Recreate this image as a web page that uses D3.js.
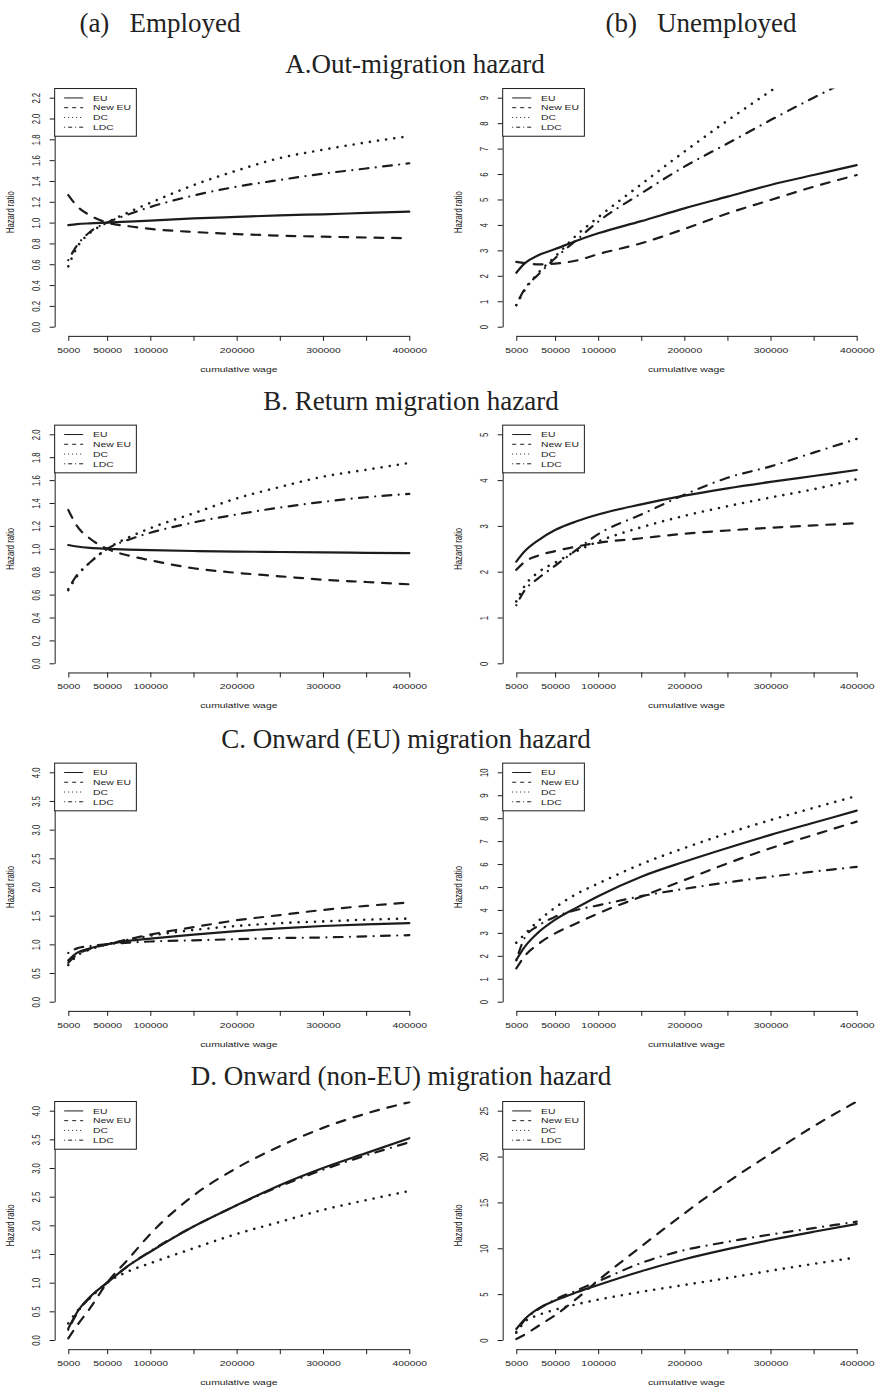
<!DOCTYPE html>
<html>
<head>
<meta charset="utf-8">
<script src="https://cdn.jsdelivr.net/npm/d3@7"></script>
<style>
  body { margin: 0; background: #fff; }
  svg { display: block; }
  .sans { font-family: "Liberation Sans", Arial, Helvetica, sans-serif; fill: #222; }
  .serif { font-family: "Liberation Serif", "Times New Roman", serif; fill: #222; white-space: pre; }
</style>
</head>
<body>
<script>
// cumulative wage grid (x) and the four origin groups
var wage = [5000, 15000, 30000, 50000, 75000, 100000, 150000, 200000, 250000, 300000, 350000, 400000];
var groups = ["EU", "New EU", "DC", "LDC"];

// hazard ratios, one row per group (EU, New EU, DC, LDC)
var outEmployed = [
  [0.975, 0.985, 0.993, 1.0, 1.01, 1.02, 1.04, 1.055, 1.07, 1.08, 1.093, 1.105],
  [1.265, 1.16, 1.07, 1.0, 0.965, 0.94, 0.91, 0.89, 0.875, 0.865, 0.857, 0.85],
  [0.58, 0.76, 0.9, 1.0, 1.1, 1.19, 1.36, 1.50, 1.62, 1.70, 1.77, 1.83],
  [0.64, 0.78, 0.91, 1.0, 1.08, 1.15, 1.26, 1.345, 1.41, 1.47, 1.52, 1.57]
];
var outUnemployed = [
  [2.12, 2.5, 2.8, 3.05, 3.38, 3.67, 4.15, 4.65, 5.11, 5.57, 5.96, 6.35],
  [2.55, 2.5, 2.45, 2.48, 2.6, 2.85, 3.28, 3.84, 4.45, 4.98, 5.5, 5.96],
  [0.85, 1.45, 2.1, 2.75, 3.6, 4.3, 5.6, 6.88, 8.1, 9.26, 10.4, 11.5],
  [0.85, 1.5, 2.03, 2.69, 3.41, 4.13, 5.24, 6.29, 7.2, 8.12, 9.0, 9.83]
];
var returnEmployed = [
  [1.033, 1.02, 1.008, 1.0, 0.993, 0.988, 0.981, 0.976, 0.972, 0.968, 0.965, 0.962],
  [1.34, 1.2, 1.09, 1.0, 0.94, 0.9, 0.83, 0.79, 0.76, 0.73, 0.71, 0.69],
  [0.64, 0.76, 0.88, 1.0, 1.1, 1.18, 1.31, 1.44, 1.54, 1.63, 1.69, 1.75],
  [0.65, 0.77, 0.88, 1.0, 1.08, 1.14, 1.23, 1.3, 1.36, 1.41, 1.45, 1.48]
];
var returnUnemployed = [
  [2.22, 2.45, 2.68, 2.91, 3.1, 3.25, 3.47, 3.66, 3.82, 3.96, 4.09, 4.22],
  [2.04, 2.22, 2.35, 2.45, 2.55, 2.63, 2.73, 2.83, 2.9, 2.96, 3.01, 3.06],
  [1.35, 1.7, 1.98, 2.2, 2.45, 2.66, 2.97, 3.22, 3.43, 3.62, 3.8, 4.02],
  [1.27, 1.6, 1.85, 2.13, 2.48, 2.82, 3.25, 3.68, 4.05, 4.3, 4.6, 4.9]
];
var onwardEUEmployed = [
  [0.72, 0.85, 0.93, 1.0, 1.06, 1.1, 1.17, 1.23, 1.28, 1.32, 1.35, 1.37],
  [0.68, 0.82, 0.92, 1.0, 1.09, 1.17, 1.3, 1.42, 1.51, 1.6, 1.67, 1.73],
  [0.64, 0.8, 0.91, 1.0, 1.08, 1.15, 1.25, 1.32, 1.37, 1.40, 1.43, 1.45],
  [0.85, 0.93, 0.97, 1.0, 1.03, 1.05, 1.07, 1.09, 1.11, 1.12, 1.14, 1.16]
];
var onwardEUUnemployed = [
  [1.82, 2.4, 3.0, 3.57, 4.1, 4.6, 5.45, 6.1, 6.7, 7.27, 7.8, 8.33],
  [1.45, 2.0, 2.5, 2.98, 3.42, 3.85, 4.58, 5.3, 6.03, 6.69, 7.27, 7.85],
  [2.57, 2.95, 3.5, 4.1, 4.7, 5.15, 6.0, 6.7, 7.34, 7.92, 8.45, 8.97],
  [1.8, 2.8, 3.3, 3.7, 4.0, 4.2, 4.6, 4.92, 5.2, 5.45, 5.67, 5.88]
];
var onwardNonEUEmployed = [
  [0.2, 0.48, 0.75, 1.0, 1.3, 1.54, 1.98, 2.35, 2.7, 3.0, 3.26, 3.52],
  [0.03, 0.25, 0.55, 1.0, 1.42, 1.85, 2.52, 3.0, 3.38, 3.7, 3.95, 4.15],
  [0.29, 0.5, 0.73, 1.0, 1.2, 1.34, 1.6, 1.85, 2.06, 2.27, 2.44, 2.6],
  [0.18, 0.46, 0.74, 1.0, 1.3, 1.55, 1.98, 2.35, 2.68, 2.97, 3.22, 3.45]
];
var onwardNonEUUnemployed = [
  [1.2, 2.3, 3.4, 4.3, 5.2, 6.0, 7.5, 8.8, 9.9, 10.9, 11.8, 12.65],
  [0.1, 0.6, 1.5, 2.7, 4.5, 6.5, 10.2, 13.8, 17.2, 20.3, 23.3, 26.0],
  [0.8, 2.0, 2.7, 3.3, 3.9, 4.4, 5.25, 6.0, 6.75, 7.55, 8.3, 9.0],
  [0.9, 2.2, 3.3, 4.4, 5.4, 6.4, 8.4, 9.8, 10.7, 11.5, 12.2, 12.9]
];

// axis ticks
var xTicks = [5000, 50000, 100000, 150000, 200000, 250000, 300000, 350000, 400000];
var xTickLabels = ["5000", "50000", "100000", "", "200000", "", "300000", "", "400000"];
var yTicksOutEmp = [0, 0.2, 0.4, 0.6, 0.8, 1.0, 1.2, 1.4, 1.6, 1.8, 2.0, 2.2];
var yTicksOutUnemp = [0, 1, 2, 3, 4, 5, 6, 7, 8, 9];
var yTicksRetEmp = [0, 0.2, 0.4, 0.6, 0.8, 1.0, 1.2, 1.4, 1.6, 1.8, 2.0];
var yTicksRetUnemp = [0, 1, 2, 3, 4, 5];
var yTicksOnEUEmp = [0, 0.5, 1.0, 1.5, 2.0, 2.5, 3.0, 3.5, 4.0];
var yTicksOnEUUnemp = [0, 1, 2, 3, 4, 5, 6, 7, 8, 9, 10];
var yTicksOnNonEmp = [0, 0.5, 1.0, 1.5, 2.0, 2.5, 3.0, 3.5, 4.0];
var yTicksOnNonUnemp = [0, 5, 10, 15, 20, 25];

var columnTitles = ["(a)   Employed", "(b)   Unemployed"];
var rowTitles = ["A.Out-migration hazard", "B. Return migration hazard",
                 "C. Onward (EU) migration hazard", "D. Onward (non-EU) migration hazard"];

// layout
var W = 880, H = 1391;
var lwd = 2.2;
// solid, dashed, dotted, dot-dash (round caps turn the tiny dashes into dots)
var dashes = [null, "8.8,8.8", "0.01,8.2", "0.01,7.4,8.8,7.4"];
var legDashes = [null, "4,4", "1,3", "1,3,4,3"];
var stretch = 1.35, fs = 7.7;
var ink = "#1c1c1c";

var rows = [
  {top: 97.7, bot: 326.7, titleY: 72.5, titleX: 415},
  {top: 434.3, bot: 663.3, titleY: 410, titleX: 411},
  {top: 772.3, bot: 1001.7, titleY: 747.5, titleX: 406},
  {top: 1110.7, bot: 1340, titleY: 1085, titleX: 401}
];
var cols = [{x0: 68.3, x1: 409.3}, {x0: 516.3, x1: 856.7}];

var panels = [
  {r: 0, c: 0, data: outEmployed, ticks: yTicksOutEmp, fmt: d3.format(".1f")},
  {r: 0, c: 1, data: outUnemployed, ticks: yTicksOutUnemp, fmt: d3.format("d")},
  {r: 1, c: 0, data: returnEmployed, ticks: yTicksRetEmp, fmt: d3.format(".1f")},
  {r: 1, c: 1, data: returnUnemployed, ticks: yTicksRetUnemp, fmt: d3.format("d")},
  {r: 2, c: 0, data: onwardEUEmployed, ticks: yTicksOnEUEmp, fmt: d3.format(".1f")},
  {r: 2, c: 1, data: onwardEUUnemployed, ticks: yTicksOnEUUnemp, fmt: d3.format("d")},
  {r: 3, c: 0, data: onwardNonEUEmployed, ticks: yTicksOnNonEmp, fmt: d3.format(".1f")},
  {r: 3, c: 1, data: onwardNonEUUnemployed, ticks: yTicksOnNonUnemp, fmt: d3.format("d")}
];

var svg = d3.select("body").append("svg").attr("width", W).attr("height", H);
svg.append("rect").attr("width", W).attr("height", H).attr("fill", "#fff");

// horizontal sans text, stretched sideways like the scanned figure
function sansText(g, x, y, str, anchor) {
  return g.append("text").attr("class", "sans")
    .attr("transform", "translate(" + x + "," + y + ") scale(" + stretch + ",1)")
    .attr("text-anchor", anchor || "middle")
    .attr("font-size", fs)
    .text(str);
}

columnTitles.forEach(function(t, i) {
  svg.append("text").attr("class", "serif")
    .attr("x", i == 0 ? 160 : 701).attr("y", 32)
    .attr("text-anchor", "middle").attr("font-size", 27).text(t);
});
rows.forEach(function(r, i) {
  svg.append("text").attr("class", "serif")
    .attr("x", r.titleX).attr("y", r.titleY)
    .attr("text-anchor", "middle").attr("font-size", 27).text(rowTitles[i]);
});

panels.forEach(function(p, pi) {
  var row = rows[p.r], col = cols[p.c];
  var ymax = p.ticks[p.ticks.length - 1];
  var x = d3.scaleLinear().domain([5000, 400000]).range([col.x0, col.x1]);
  var y = d3.scaleLinear().domain([0, ymax]).range([row.bot, row.top]);
  var padX = 0.04 * (col.x1 - col.x0), padY = 0.04 * (row.bot - row.top);
  var left = col.x0 - padX, right = col.x1 + padX;
  var top = row.top - padY, bottom = row.bot + padY;

  var g = svg.append("g");

  // clip to plotting region
  var cid = "clip" + pi;
  svg.append("clipPath").attr("id", cid).append("rect")
    .attr("x", left).attr("y", top).attr("width", right - left).attr("height", bottom - top);

  // y axis
  var ya = g.append("g").attr("transform", "translate(" + left + ",0)")
    .call(d3.axisLeft(y).tickValues(p.ticks).tickFormat(p.fmt).tickSize(5).tickSizeOuter(0));
  ya.select(".domain").attr("stroke", ink);
  ya.selectAll(".tick line").attr("stroke", ink);
  ya.selectAll(".tick text")
    .attr("class", "sans").attr("font-family", null).attr("font-size", fs).attr("fill", ink)
    .attr("x", null).attr("dy", null)
    .attr("text-anchor", "middle")
    .attr("transform", "translate(-15,0) scale(" + stretch + ",1) rotate(-90)");

  // x axis
  var xa = g.append("g").attr("transform", "translate(0," + bottom + ")")
    .call(d3.axisBottom(x).tickValues(xTicks).tickFormat(function(d, i) { return xTickLabels[i]; })
      .tickSize(5).tickSizeOuter(0));
  xa.select(".domain").attr("stroke", ink);
  xa.selectAll(".tick line").attr("stroke", ink);
  xa.selectAll(".tick text")
    .attr("class", "sans").attr("font-family", null).attr("font-size", fs).attr("fill", ink)
    .attr("y", null).attr("dy", null)
    .attr("transform", "translate(0,17) scale(" + stretch + ",1)");

  // axis titles
  sansText(g, (left + right) / 2, bottom + 36, "cumulative wage");
  g.append("text").attr("class", "sans")
    .attr("transform", "translate(" + (left - 41) + "," + ((top + bottom) / 2) + ") scale(" + stretch + ",1) rotate(-90)")
    .attr("text-anchor", "middle").attr("font-size", fs).text("Hazard ratio");

  // curves
  var lineGen = d3.line()
    .x(function(d, i) { return x(wage[i]); })
    .y(function(d) { return y(d); })
    .curve(d3.curveMonotoneX);

  g.append("g").attr("clip-path", "url(#" + cid + ")")
    .selectAll("path").data(p.data).enter().append("path")
    .attr("d", lineGen)
    .attr("fill", "none")
    .attr("stroke", ink)
    .attr("stroke-width", function(d, i) { return i == 2 ? lwd + 0.4 : lwd; })
    .attr("stroke-linecap", "round")
    .attr("stroke-dasharray", function(d, i) { return dashes[i]; });

  // legend
  var lg = g.append("g").attr("transform", "translate(" + left + "," + top + ")");
  lg.append("rect").attr("width", 81.7).attr("height", 47.7)
    .attr("fill", "#fff").attr("stroke", ink).attr("stroke-width", 1);
  groups.forEach(function(name, i) {
    var yy = 9.4 + i * 9.75;
    lg.append("line").attr("x1", 9.5).attr("x2", 28.5).attr("y1", yy).attr("y2", yy)
      .attr("stroke", ink).attr("stroke-width", 1)
      .attr("stroke-dasharray", legDashes[i]);
    sansText(lg, 38.3, yy + 2.8, name, "start");
  });
});
</script>
</body>
</html>
